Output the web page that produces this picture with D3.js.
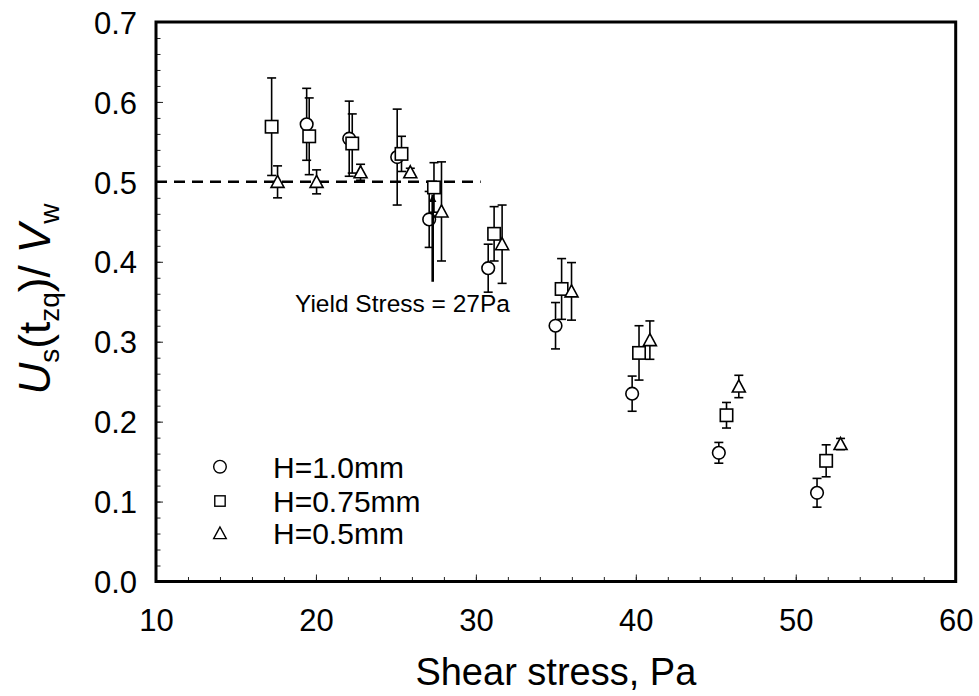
<!DOCTYPE html>
<meta charset="utf-8">
<head>
<title>Shear stress vs Us/Vw</title>
<style>
body { margin: 0; background: #fff; }
svg text { font-family: "Liberation Sans", Arial, Helvetica, sans-serif; fill: #000; }
</style>
</head>
<body>
<div id="chart"></div>
<script src="https://d3js.org/d3.v7.min.js"></script>
<script>
// H = 1.0mm (circles)
var circleX = [19.42, 22.08, 25.08, 27.08, 30.77, 34.98, 39.77, 45.19, 51.33],
	circleY = [0.572, 0.554, 0.531, 0.453, 0.392, 0.320, 0.235, 0.161, 0.111],
	circleErr = [0.045, 0.047, 0.060, 0.035, 0.030, 0.029, 0.022, 0.013, 0.018];

// H = 0.75mm (squares)
var squareX = [17.23, 19.58, 22.27, 25.35, 27.38, 31.14, 35.36, 40.20, 45.67, 51.90],
	squareY = [0.569, 0.557, 0.548, 0.535, 0.493, 0.435, 0.366, 0.286, 0.208, 0.151],
	squareErr = [0.061, 0.048, 0.037, 0.022, 0.031, 0.034, 0.038, 0.034, 0.016, 0.020];

// H = 0.5mm (triangles)
var triX = [17.60, 20.04, 22.79, 25.90, 27.85, 31.64, 35.98, 40.88, 46.44, 52.80],
	triY = [0.500, 0.500, 0.512, 0.512, 0.463, 0.422, 0.363, 0.302, 0.244, 0.172],
	triErr = [0.020, 0.015, 0.010, 0.005, 0.062, 0.049, 0.036, 0.024, 0.014, 0.007];

var legendLabels = ["H=1.0mm", "H=0.75mm", "H=0.5mm"];
var xTicks = [10, 20, 30, 40, 50, 60],
	yTicks = [0.0, 0.1, 0.2, 0.3, 0.4, 0.5, 0.6, 0.7];

var yieldStress = 27.3,
	refLevel = 0.5;

var width = 979,
	height = 696;

var x = d3.scaleLinear().domain([10, 60]).range([156, 955.7]);
var y = d3.scaleLinear().domain([0, 0.7]).range([581.5, 22]);

var svg = d3.select("#chart").append("svg")
	.attr("width", width)
	.attr("height", height);

svg.append("rect")
	.attr("width", width)
	.attr("height", height)
	.attr("fill", "#fff");

/* minor ticks, drawn inward */
svg.append("g")
	.attr("class", "minor")
	.attr("transform", "translate(0," + y(0) + ")")
	.call(d3.axisBottom(x).tickValues(d3.range(10, 61, 2)).tickSize(-4.5).tickSizeOuter(0).tickFormat(""));
svg.append("g")
	.attr("class", "minor")
	.attr("transform", "translate(" + x(10) + ",0)")
	.call(d3.axisLeft(y).tickValues(d3.range(0, 36).map(function(i) { return i * 0.02; })).tickSize(-4.5).tickSizeOuter(0).tickFormat(""));
svg.selectAll(".minor .domain").remove();

var xMajor = svg.append("g")
	.attr("transform", "translate(0," + y(0) + ")")
	.call(d3.axisBottom(x).tickValues(xTicks).tickSize(-7).tickSizeOuter(0).tickFormat(d3.format("d")));
xMajor.selectAll("text")
	.attr("y", 49)
	.attr("dy", null)
	.style("font-size", "31px");

var yMajor = svg.append("g")
	.attr("transform", "translate(" + x(10) + ",0)")
	.call(d3.axisLeft(y).tickValues(yTicks).tickSize(-7).tickSizeOuter(0).tickPadding(19).tickFormat(d3.format(".1f")));
yMajor.selectAll("text")
	.attr("dy", "0.36em")
	.style("font-size", "31px");

svg.selectAll(".tick line").attr("stroke", "#222").attr("stroke-width", 1);
svg.selectAll(".domain").remove();

// dashed line at 0.5
svg.append("line")
	.attr("x1", x(10))
	.attr("x2", x(30.3))
	.attr("y1", y(refLevel))
	.attr("y2", y(refLevel))
	.attr("stroke", "#000")
	.attr("stroke-width", 2.5)
	.attr("stroke-dasharray", "11,7");

/* error bars + markers */
function errorBars(xs, ys, es) {
	var g = svg.append("g").attr("stroke", "#000").attr("stroke-width", 1.6).attr("fill", "none");
	xs.forEach(function(v, i) {
		var cx = x(v), top = y(ys[i] + es[i]), bot = y(ys[i] - es[i]);
		g.append("line").attr("x1", cx).attr("x2", cx).attr("y1", top).attr("y2", bot);
		g.append("line").attr("x1", cx - 4.5).attr("x2", cx + 4.5).attr("y1", top).attr("y2", top);
		g.append("line").attr("x1", cx - 4.5).attr("x2", cx + 4.5).attr("y1", bot).attr("y2", bot);
	});
}

function drawMarker(g, kind, cx, cy, s) {
	if (kind == "circle") {
		g.append("circle").attr("cx", cx).attr("cy", cy).attr("r", s);
	} else if (kind == "square") {
		g.append("rect").attr("x", cx - s).attr("y", cy - s).attr("width", 2 * s).attr("height", 2 * s);
	} else {
		g.append("path").attr("d", "M" + cx + "," + (cy - s) + "L" + (cx + s) + "," + (cy + s * 0.85) + "L" + (cx - s) + "," + (cy + s * 0.85) + "Z");
	}
}

function markers(xs, ys, kind, s) {
	var g = svg.append("g").attr("stroke", "#000").attr("stroke-width", 1.6).attr("fill", "#fff");
	xs.forEach(function(v, i) { drawMarker(g, kind, x(v), y(ys[i]), s); });
}

errorBars(circleX, circleY, circleErr);
errorBars(squareX, squareY, squareErr);
errorBars(triX, triY, triErr);
markers(circleX, circleY, "circle", 6.3);
markers(squareX, squareY, "square", 6.2);
markers(triX, triY, "triangle", 6.5);

// yield stress arrow
svg.append("defs").append("marker")
	.attr("id", "head")
	.attr("viewBox", "0 0 10 10")
	.attr("refX", 10)
	.attr("refY", 5)
	.attr("markerWidth", 3)
	.attr("markerHeight", 4)
	.attr("markerUnits", "strokeWidth")
	.attr("orient", "auto")
	.append("path")
	.attr("d", "M0,0L10,5L0,10Z")
	.attr("fill", "#000");

svg.append("line")
	.attr("x1", x(yieldStress))
	.attr("x2", x(yieldStress))
	.attr("y1", y(0.375))
	.attr("y2", y(0.484))
	.attr("stroke", "#000")
	.attr("stroke-width", 2.6)
	.attr("marker-end", "url(#head)");

svg.append("text")
	.attr("x", x(18.69))
	.attr("y", y(0.3368))
	.style("font-size", "24.5px")
	.text("Yield Stress = 27Pa");

// legend
var legendY = [0.1436, 0.1007, 0.0603],
	legendKinds = ["circle", "square", "triangle"];
var lg = svg.append("g").attr("stroke", "#000").attr("stroke-width", 1.4).attr("fill", "#fff");
legendKinds.forEach(function(k, i) {
	drawMarker(lg, k, x(14), y(legendY[i]), k == "square" ? 5.2 : 6.3);
	svg.append("text")
		.attr("x", 273)
		.attr("y", y(legendY[i]))
		.attr("dy", "0.36em")
		.style("font-size", "30px")
		.text(legendLabels[i]);
});

// axis titles
svg.append("text")
	.attr("x", (x(10) + x(60)) / 2)
	.attr("y", 685)
	.attr("text-anchor", "middle")
	.style("font-size", "38px")
	.text("Shear stress, Pa");

var ylab = svg.append("text")
	.attr("transform", "translate(50,299)rotate(-90)")
	.attr("text-anchor", "middle")
	.style("font-size", "44px");
ylab.append("tspan").style("font-style", "italic").text("U");
ylab.append("tspan").attr("dy", 9).style("font-size", "28px").text("s");
ylab.append("tspan").attr("dy", -9).text("(t");
ylab.append("tspan").attr("dy", 9).style("font-size", "28px").text("zq");
ylab.append("tspan").attr("dy", -9).text(")/ ");
ylab.append("tspan").style("font-style", "italic").text("V");
ylab.append("tspan").attr("dy", 9).style("font-size", "28px").text("w");

// plot frame, drawn last
svg.append("rect")
	.attr("x", x(10))
	.attr("y", y(0.7))
	.attr("width", x(60) - x(10))
	.attr("height", y(0) - y(0.7))
	.attr("fill", "none")
	.attr("stroke", "#000")
	.attr("stroke-width", 3);
</script>
</body>
